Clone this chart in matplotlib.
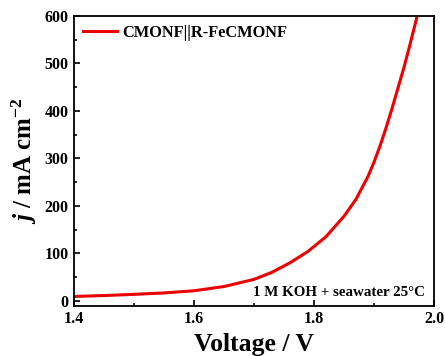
import numpy as np
import matplotlib
matplotlib.use("Agg")
import matplotlib.pyplot as plt
from matplotlib.ticker import MultipleLocator, FormatStrFormatter

plt.rcParams['font.family'] = ['Liberation Serif', 'DejaVu Serif']
plt.rcParams['font.weight'] = 'bold'
plt.rcParams['mathtext.fontset'] = 'custom'
plt.rcParams['mathtext.rm'] = 'Liberation Serif:bold'
plt.rcParams['mathtext.it'] = 'Liberation Serif:bold:italic'
plt.rcParams['mathtext.bf'] = 'Liberation Serif:bold'

# polarization curve of the two-electrode cell
voltage = [1.40, 1.45, 1.50, 1.55, 1.60, 1.65, 1.70, 1.73, 1.76, 1.79,
           1.82, 1.85, 1.87, 1.89, 1.90, 1.91, 1.92, 1.93, 1.95, 1.96,
           1.97, 1.98]
current = [9, 11, 13.5, 16.5, 21, 30, 45, 60, 80, 104,
           135, 178, 214, 262, 292, 326, 364, 405, 492, 540,
           590, 642]
label = "CMONF||R-FeCMONF"

fig = plt.figure(figsize=(4.45, 3.56), dpi=100)
ax = fig.add_axes([74/445, 1 - 305.5/356, 360/445, 289.5/356])

ax.plot(voltage, current, color='#ee0000', lw=2.2, label=label)

ax.set_xlim(1.4, 2.0)
ax.set_ylim(-10, 600)
ax.xaxis.set_major_locator(MultipleLocator(0.2))
ax.xaxis.set_minor_locator(MultipleLocator(0.1))
ax.yaxis.set_major_locator(MultipleLocator(100))
ax.yaxis.set_minor_locator(MultipleLocator(50))
ax.xaxis.set_major_formatter(FormatStrFormatter('%.1f'))
ax.tick_params(which='both', direction='in', top=False, right=False,
               labelsize=11.5, width=1.2, pad=4)
ax.tick_params(which='major', length=4)
ax.tick_params(which='minor', length=2.5)
for s in ax.spines.values():
    s.set_linewidth(1.3)

ax.set_xlabel("Voltage / V", fontsize=18.5, fontweight='bold', labelpad=4)
ax.set_ylabel(r"$j$ / mA cm$^{-2}$", fontsize=18, fontweight='bold', labelpad=4)

ax.legend(loc='upper left', frameon=False, fontsize=11.8, handlelength=2.1,
          handletextpad=0.3, borderaxespad=0.15)
ax.text(0.975, 0.0345, "1 M KOH + seawater 25\u00b0C", transform=ax.transAxes,
        ha='right', va='baseline', fontsize=10.8, fontweight='bold')

fig.savefig("out.png", dpi=100)
